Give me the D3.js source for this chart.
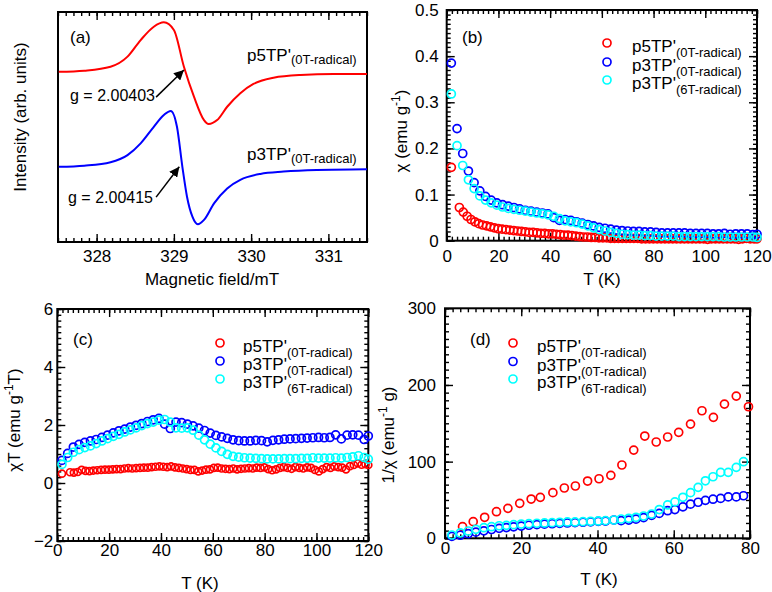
<!DOCTYPE html>
<html><head><meta charset="utf-8">
<script src="https://cdn.jsdelivr.net/npm/d3@7"></script>
<style>
body{margin:0;background:#fff}
svg{display:block}
text{font-family:"Liberation Sans",Arial,Helvetica,sans-serif;fill:#000}
</style>
</head><body>
<svg id="chart" width="772" height="592"></svg>
<script>
// ---------- Panel (a): EPR spectra ----------
const fieldRed = [327.51,327.84,328.18,328.40,328.57,328.74,328.87,329.00,329.13,329.26,329.39,329.45,329.56,329.69,329.86,330.03,330.29,330.64,331.07,331.50];
const epsRed   = [74.0,74.5,76.2,80.6,87.8,93.6,95.5,92.2,76.2,63.2,53.0,51.3,53.0,58.8,64.7,68.7,71.4,72.6,73.0,73.0];
const fieldBlue = [327.51,327.84,328.18,328.40,328.57,328.74,328.87,328.96,329.04,329.11,329.17,329.24,329.31,329.39,329.52,329.69,329.86,330.12,330.42,330.85,331.50];
const epsBlue   = [32.7,33.2,34.7,37.8,42.9,50.1,55.2,57.0,50.1,32.7,19.7,11.0,7.7,9.6,16.8,23.3,27.0,29.6,30.6,31.3,31.6];
const fieldTicks = [328,329,330,331];

// ---------- Panels (b),(c): T grids ----------
const T3 = [1.8,4.0,6.2,8.4,10.6,12.8,15.0,17.2,19.4,21.6,23.8,26.0,28.2,30.4,32.6,34.8,37.0,39.2,41.4,43.6,45.8,48.0,50.2,52.4,54.6,56.8,59.0,61.2,63.4,65.6,67.8,70.0,72.2,74.4,76.6,78.8,81.0,83.2,85.4,87.6,89.8,92.0,94.2,96.4,98.6,100.8,103.0,105.2,107.4,109.6,111.8,114.0,116.2,118.4,120.0];
const Tred = [1.8,4.9,6.4,7.9,9.4,10.9,12.4,13.9,15.4,16.9,18.4,19.9,21.4,22.9,24.4,25.9,27.4,28.9,30.4,31.9,33.4,34.9,36.4,37.9,39.4,40.9,42.4,43.9,45.4,46.9,48.4,49.9,51.4,52.9,54.4,55.9,57.4,58.9,60.4,61.9,63.4,64.9,66.4,67.9,69.4,70.9,72.4,73.9,75.4,76.9,78.4,79.9,81.4,82.9,84.4,85.9,87.4,88.9,90.4,91.9,93.4,94.9,96.4,97.9,99.4,100.9,102.4,103.9,105.4,106.9,108.4,109.9,111.4,112.9,114.4,115.9,117.4,118.9,120.0];

// (b) chi
const chiBlue = [0.385,0.243,0.189,0.151,0.126,0.108,0.096,0.088,0.082,0.078,
  0.075,0.072,0.069,0.066,0.064,0.062,0.060,0.058,0.050,0.044,
  0.046,0.044,0.041,0.038,0.035,0.032,0.029,0.027,0.025,0.023,
  0.022,0.021,0.020,0.020,0.019,0.019,0.018,0.017,0.017,0.017,
  0.017,0.017,0.016,0.016,0.016,0.016,0.015,0.015,0.016,0.014,
  0.015,0.015,0.015,0.013,0.014];
const chiCyan = [0.318,0.206,0.163,0.132,0.113,0.097,0.088,0.082,0.077,0.073,
  0.070,0.068,0.066,0.064,0.062,0.060,0.058,0.056,0.053,0.048,
  0.043,0.041,0.039,0.036,0.032,0.028,0.024,0.021,0.018,0.016,
  0.014,0.013,0.012,0.012,0.011,0.011,0.010,0.010,0.010,0.010,
  0.009,0.009,0.009,0.009,0.009,0.009,0.009,0.009,0.008,0.008,
  0.008,0.008,0.008,0.008,0.007];
const chiRed = [0.159,0.072,0.062,0.053,0.046,0.041,0.037,0.034,0.032,0.030,
  0.028,0.026,0.025,0.024,0.023,0.022,0.021,0.020,0.019,0.018,
  0.018,0.017,0.016,0.016,0.015,0.015,0.014,0.013,0.012,0.012,
  0.011,0.010,0.009,0.008,0.008,0.007,0.007,0.006,0.006,0.006,
  0.005,0.005,0.005,0.005,0.005,0.005,0.005,0.005,0.004,0.004,
  0.004,0.004,0.004,0.004,0.004,0.004,0.004,0.004,0.004,0.004,
  0.004,0.004,0.004,0.004,0.004,0.003,0.004,0.004,0.004,0.004,
  0.004,0.004,0.004,0.003,0.004,0.005,0.004,0.004,0.004];

// (c) chi*T
const chiTBlue = [0.78,1.02,1.24,1.33,1.40,1.45,1.50,1.57,1.65,1.73,
  1.80,1.86,1.93,1.99,2.05,2.12,2.18,2.23,2.03,1.88,
  2.10,2.08,2.03,1.97,1.89,1.81,1.72,1.64,1.59,1.54,
  1.49,1.46,1.45,1.45,1.47,1.46,1.42,1.47,1.49,1.51,
  1.52,1.53,1.54,1.55,1.56,1.57,1.56,1.57,1.66,1.52,
  1.65,1.66,1.65,1.50,1.62];
const chiTCyan = [0.64,0.88,1.06,1.15,1.22,1.28,1.36,1.45,1.53,1.61,
  1.68,1.76,1.83,1.90,1.98,2.05,2.10,2.17,2.19,2.10,
  1.90,1.89,1.90,1.82,1.65,1.49,1.34,1.21,1.09,0.99,
  0.92,0.89,0.87,0.86,0.85,0.84,0.83,0.83,0.83,0.84,
  0.84,0.84,0.85,0.85,0.87,0.86,0.86,0.86,0.87,0.86,
  0.88,0.90,0.94,0.88,0.82];
const chiTRed = [0.32,0.37,0.36,0.38,0.45,0.42,0.41,0.43,0.44,0.45,
  0.46,0.46,0.47,0.48,0.48,0.50,0.51,0.50,0.51,0.52,
  0.53,0.53,0.55,0.56,0.57,0.56,0.55,0.57,0.54,0.52,
  0.50,0.48,0.45,0.45,0.40,0.43,0.46,0.47,0.52,0.53,
  0.50,0.49,0.48,0.50,0.47,0.49,0.50,0.51,0.50,0.53,
  0.52,0.54,0.48,0.44,0.47,0.52,0.55,0.52,0.49,0.55,
  0.52,0.50,0.54,0.52,0.45,0.40,0.48,0.55,0.52,0.57,
  0.55,0.53,0.47,0.58,0.62,0.68,0.63,0.65,0.62];

// (d) 1/chi
const TdRed = [4.6,7.4,10.4,13.5,16.5,19.6,22.6,25.0,28.3,31.3,34.2,37.4,40.4,43.5,46.4,49.5,52.4,55.4,58.4,61.3,64.4,67.4,70.4,73.3,76.4,79.6];
const invRed = [15.1,21.7,27.4,34.7,39.1,45.6,51.2,53.4,59.5,65.6,68.2,74.7,77.7,82.1,95.6,115.1,133.4,125.6,132.1,138.2,149.0,166.4,157.8,175.1,185.5,171.6];
const Td3 = [1.8,4.0,6.1,8.1,10.2,12.2,14.2,16.1,18.0,20.0,22.0,24.1,26.1,28.1,30.1,32.1,34.1,36.2,38.2,40.2,42.1,44.3,46.2,48.2,50.1,52.1,54.2,56.2,58.4,60.3,62.4,64.4,66.4,68.3,70.3,72.3,74.3,76.4,78.3];
const invBlue = [2.5,4.0,6.0,8.0,9.8,11.5,13.0,14.0,15.0,16.0,
  17.0,17.8,18.5,19.0,19.5,20.0,20.5,21.0,21.5,22.0,
  22.5,23.9,23.0,23.8,25.0,27.0,30.0,32.5,36.0,37.5,
  41.0,44.5,47.0,49.5,51.0,52.0,54.0,54.0,55.5];
const invCyan = [4.3,7.0,9.5,11.7,13.8,15.1,16.4,16.9,17.8,18.6,
  19.1,19.6,20.0,20.4,20.9,21.3,21.3,21.7,22.2,22.6,
  23.0,23.9,25.2,26.1,27.4,29.1,31.7,37.5,43.5,47.5,
  53.5,59.5,66.5,75.0,80.3,86.0,86.0,92.6,99.9];

const seriesNames = ["p5TP'", "p3TP'", "p3TP'"];
const seriesSubs = ["(0T-radical)", "(0T-radical)", "(6T-radical)"];
const colors = {red:"#ff0000", blue:"#0000ff", cyan:"#00ffff"};

const svg = d3.select("#chart");
const FONT = '"Liberation Sans",Arial,Helvetica,sans-serif';

function makePanel(c) {
  const g = svg.append("g");
  const x = d3.scaleLinear().domain(c.xDom).range([c.x0, c.x1]);
  const y = d3.scaleLinear().domain(c.yDom).range([c.y1, c.y0]);
  function ax(gen, tr, vals, size, fmt, pad) {
    const a = g.append("g").attr("transform", tr)
      .call(gen.tickValues(vals).tickSize(size).tickPadding(pad || 3).tickFormat(fmt || (() => "")));
    a.select(".domain").remove();
    a.attr("font-size", 17).attr("font-family", FONT);
    a.selectAll("line").attr("stroke", "#000").attr("stroke-width", 1.4);
    a.selectAll("text").attr("fill", "#000");
    return a;
  }
  const bottom = `translate(0,${c.y1})`, top = `translate(0,${c.y0})`;
  const left = `translate(${c.x0},0)`, right = `translate(${c.x1},0)`;
  const xMinor = d3.range(c.xDom[0], c.xDom[1] + 1e-9, c.xMinorStep);
  ax(d3.axisBottom(x), bottom, xMinor, -4);
  ax(d3.axisTop(x), top, xMinor, -4);
  ax(d3.axisBottom(x), bottom, c.xMajor, -8, c.xFmt, c.xPad);
  ax(d3.axisTop(x), top, c.xMajor, -8);
  if (c.yMajor) {
    const yMinor = d3.range(c.yDom[0], c.yDom[1] + 1e-9, c.yMinorStep);
    ax(d3.axisLeft(y), left, yMinor, -4);
    ax(d3.axisRight(y), right, yMinor, -4);
    ax(d3.axisLeft(y), left, c.yMajor, -8, c.yFmt, c.yPad);
    ax(d3.axisRight(y), right, c.yMajor, -8);
  }
  g.append("rect").attr("x", c.x0).attr("y", c.y0)
    .attr("width", c.x1 - c.x0).attr("height", c.y1 - c.y0)
    .attr("fill", "none").attr("stroke", "#000").attr("stroke-width", 2);
  return {g, x, y};
}

function scatter(p, xs, ys, color, r) {
  p.g.append("g").selectAll("circle").data(d3.zip(xs, ys)).join("circle")
    .attr("cx", d => p.x(d[0])).attr("cy", d => p.y(d[1])).attr("r", r || 4)
    .attr("fill", "none").attr("stroke", color).attr("stroke-width", 1.7);
}

function legend(p, mx, tx, ys) {
  const cols = [colors.red, colors.blue, colors.cyan];
  ys.forEach((yy, i) => {
    p.g.append("circle").attr("cx", mx).attr("cy", yy).attr("r", 4)
      .attr("fill", "none").attr("stroke", cols[i]).attr("stroke-width", 1.7);
    const t = p.g.append("text").attr("x", tx).attr("y", yy + 9).attr("font-size", 17);
    t.append("tspan").text(seriesNames[i]);
    t.append("tspan").attr("font-size", 13).attr("dy", 5).text(seriesSubs[i]);
  });
}

function label(p, x, y, s, fs) {
  p.g.append("text").attr("x", x).attr("y", y).attr("font-size", fs || 17).text(s);
}

function xTitle(p, cx, y, s) {
  p.g.append("text").attr("x", cx).attr("y", y).attr("font-size", 17)
    .attr("text-anchor", "middle").text(s);
}

function yTitle(p, bx, cy, parts) {
  const t = p.g.append("text").attr("transform", `translate(${bx},${cy}) rotate(-90)`)
    .attr("font-size", 17).attr("text-anchor", "middle");
  parts.forEach(pt => {
    if (pt.sup) {
      t.append("tspan").attr("font-size", 12).attr("dy", -7).text(pt.sup);
      t.append("tspan").attr("dy", 7).text(pt.after || "");
    } else {
      t.append("tspan").text(pt.t);
    }
  });
}

// ---------------- Panel (a) ----------------
const pa = makePanel({x0:58, x1:367, y0:12, y1:242, xDom:[327.5,331.5], yDom:[0,100],
  xMajor: fieldTicks, xMinorStep:0.1, xFmt: d3.format("d"), xPad: 8});
const lineA = d3.line().x(d => pa.x(d[0])).y(d => pa.y(d[1])).curve(d3.curveMonotoneX);
pa.g.append("path").datum(d3.zip(fieldRed, epsRed)).attr("d", lineA)
  .attr("fill", "none").attr("stroke", colors.red).attr("stroke-width", 2);
pa.g.append("path").datum(d3.zip(fieldBlue, epsBlue)).attr("d", lineA)
  .attr("fill", "none").attr("stroke", colors.blue).attr("stroke-width", 2);
label(pa, 70, 43, "(a)");
[[61, 0], [160, 1]].forEach(([yy, i]) => {
  const t = pa.g.append("text").attr("x", 247).attr("y", yy).attr("font-size", 17);
  t.append("tspan").text(seriesNames[i]);
  t.append("tspan").attr("font-size", 13).attr("dy", 3).text(seriesSubs[i]);
});
label(pa, 70, 101, "g = 2.00403", 16);
label(pa, 68, 203, "g = 2.00415", 16);
svg.append("defs").append("marker").attr("id", "ah").attr("viewBox", "0 0 10 10")
  .attr("refX", 10).attr("refY", 5).attr("markerWidth", 10).attr("markerHeight", 10)
  .attr("markerUnits", "userSpaceOnUse").attr("orient", "auto")
  .append("path").attr("d", "M0,0L10,5L0,10z").attr("fill", "#000");
const arrows = [[328.77, 63.0, 329.13, 74.8], [328.77, 19.5, 329.07, 32.7]];
arrows.forEach(a => {
  pa.g.append("line").attr("x1", pa.x(a[0])).attr("y1", pa.y(a[1]))
    .attr("x2", pa.x(a[2])).attr("y2", pa.y(a[3]))
    .attr("stroke", "#000").attr("stroke-width", 1.5).attr("marker-end", "url(#ah)");
});
xTitle(pa, 212, 285, "Magnetic field/mT");
yTitle(pa, 26, 117, [{t: "Intensity (arb. units)"}]);

// ---------------- Panel (b) ----------------
const pb = makePanel({x0:446.7, x1:757, y0:10, y1:240.7, xDom:[0,120], yDom:[0,0.5],
  xMajor:[0,20,40,60,80,100,120], xMinorStep:2, xFmt:d3.format("d"), xPad:9,
  yMajor:[0,0.1,0.2,0.3,0.4,0.5], yMinorStep:0.01, yFmt: d => d === 0 ? "0" : d3.format(".1f")(d), yPad:8});
scatter(pb, Tred, chiRed, colors.red);
scatter(pb, T3, chiBlue, colors.blue);
scatter(pb, T3, chiCyan, colors.cyan);
label(pb, 462, 43, "(b)");
legend(pb, 607, 632, [43, 62, 80]);
xTitle(pb, 602, 285, "T (K)");
yTitle(pb, 407, 131, [{t: "\u03c7  (emu g"}, {sup: "-1", after: ")"}]);

// ---------------- Panel (c) ----------------
const pc = makePanel({x0:57.3, x1:368.3, y0:309, y1:541, xDom:[0,120], yDom:[-2,6],
  xMajor:[0,20,40,60,80,100,120], xMinorStep:2, xFmt:d3.format("d"), xPad:3,
  yMajor:[-2,0,2,4,6], yMinorStep:0.2, yFmt:d3.format("d"), yPad:4});
scatter(pc, Tred, chiTRed, colors.red, 3.5);
scatter(pc, T3, chiTBlue, colors.blue);
scatter(pc, T3, chiTCyan, colors.cyan);
label(pc, 73, 345, "(c)");
legend(pc, 220, 243, [343, 361, 379]);
xTitle(pc, 200, 589, "T (K)");
yTitle(pc, 20, 420, [{t: "\u03c7T  (emu g"}, {sup: "-1", after: "T)"}]);

// ---------------- Panel (d) ----------------
const pd = makePanel({x0:445, x1:750, y0:308.3, y1:538.3, xDom:[0,80], yDom:[0,300],
  xMajor:[0,20,40,60,80], xMinorStep:2, xFmt:d3.format("d"), xPad:4,
  yMajor:[0,100,200,300], yMinorStep:10, yFmt:d3.format("d"), yPad:9});
scatter(pd, TdRed, invRed, colors.red);
scatter(pd, Td3, invBlue, colors.blue);
scatter(pd, Td3, invCyan, colors.cyan);
label(pd, 470, 345, "(d)");
legend(pd, 513, 537, [343, 361.5, 379]);
xTitle(pd, 599, 585, "T (K)");
yTitle(pd, 394, 435, [{t: "1/\u03c7 (emu"}, {sup: "-1", after: " g)"}]);
</script>
</body></html>
